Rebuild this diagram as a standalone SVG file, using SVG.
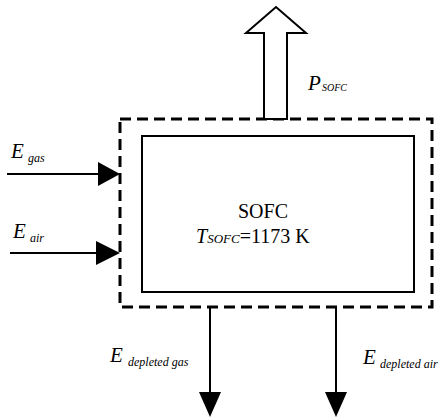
<svg xmlns="http://www.w3.org/2000/svg" width="440" height="420" viewBox="0 0 440 420">
<style>
.t{font-family:"Liberation Serif","Times New Roman","DejaVu Serif",serif;fill:#000}
.i{font-style:italic}
.ln{stroke:#000;stroke-width:2;fill:none}
.hd{fill:#000;stroke:none}
</style>
<rect width="440" height="420" fill="#fff"/>
<g id="boundary">
<rect x="120" y="119" width="312" height="188" fill="none" stroke="#000" stroke-width="3" stroke-dasharray="11 6"/>
</g>
<g id="sofc">
<rect x="142" y="136" width="272" height="156" fill="#fff" stroke="#000" stroke-width="2"/>
<text class="t" x="263" y="218" font-size="20" text-anchor="middle">SOFC</text>
<text class="t" y="243" font-size="20"><tspan x="196" class="i">T</tspan><tspan class="i" font-size="13">SOFC</tspan><tspan>=1173 K</tspan></text>
</g>
<g id="connectors">
<polygon points="264,119 264,33 246,33 276,7 306,33 287,33 287,119" fill="#fff" stroke="#000" stroke-width="2"/>
<line class="ln" x1="7" y1="174" x2="102" y2="174"/>
<polygon class="hd" points="98,162 120,174 98,186"/>
<line class="ln" x1="10" y1="253" x2="100" y2="253"/>
<polygon class="hd" points="96,241 120,253 96,265"/>
<line class="ln" x1="210" y1="307" x2="210" y2="395"/>
<polygon class="hd" points="199,392 221,392 210,417"/>
<line class="ln" x1="336" y1="307" x2="336" y2="395"/>
<polygon class="hd" points="325,392 347,392 336,417"/>
</g>
<g id="labels">
<text class="t i" x="308" y="90" font-size="21">P</text>
<text class="t i" x="322" y="91" font-size="10">SOFC</text>
<text class="t i" x="11" y="158" font-size="21">E</text>
<text class="t i" x="28" y="162" font-size="12">gas</text>
<text class="t i" x="13" y="238" font-size="21">E</text>
<text class="t i" x="30" y="242" font-size="12">air</text>
<text class="t i" x="110" y="362" font-size="21">E</text>
<text class="t i" x="128" y="366" font-size="12">depleted gas</text>
<text class="t i" x="363" y="364" font-size="21">E</text>
<text class="t i" x="380" y="368" font-size="12">depleted air</text>
</g>
</svg>
